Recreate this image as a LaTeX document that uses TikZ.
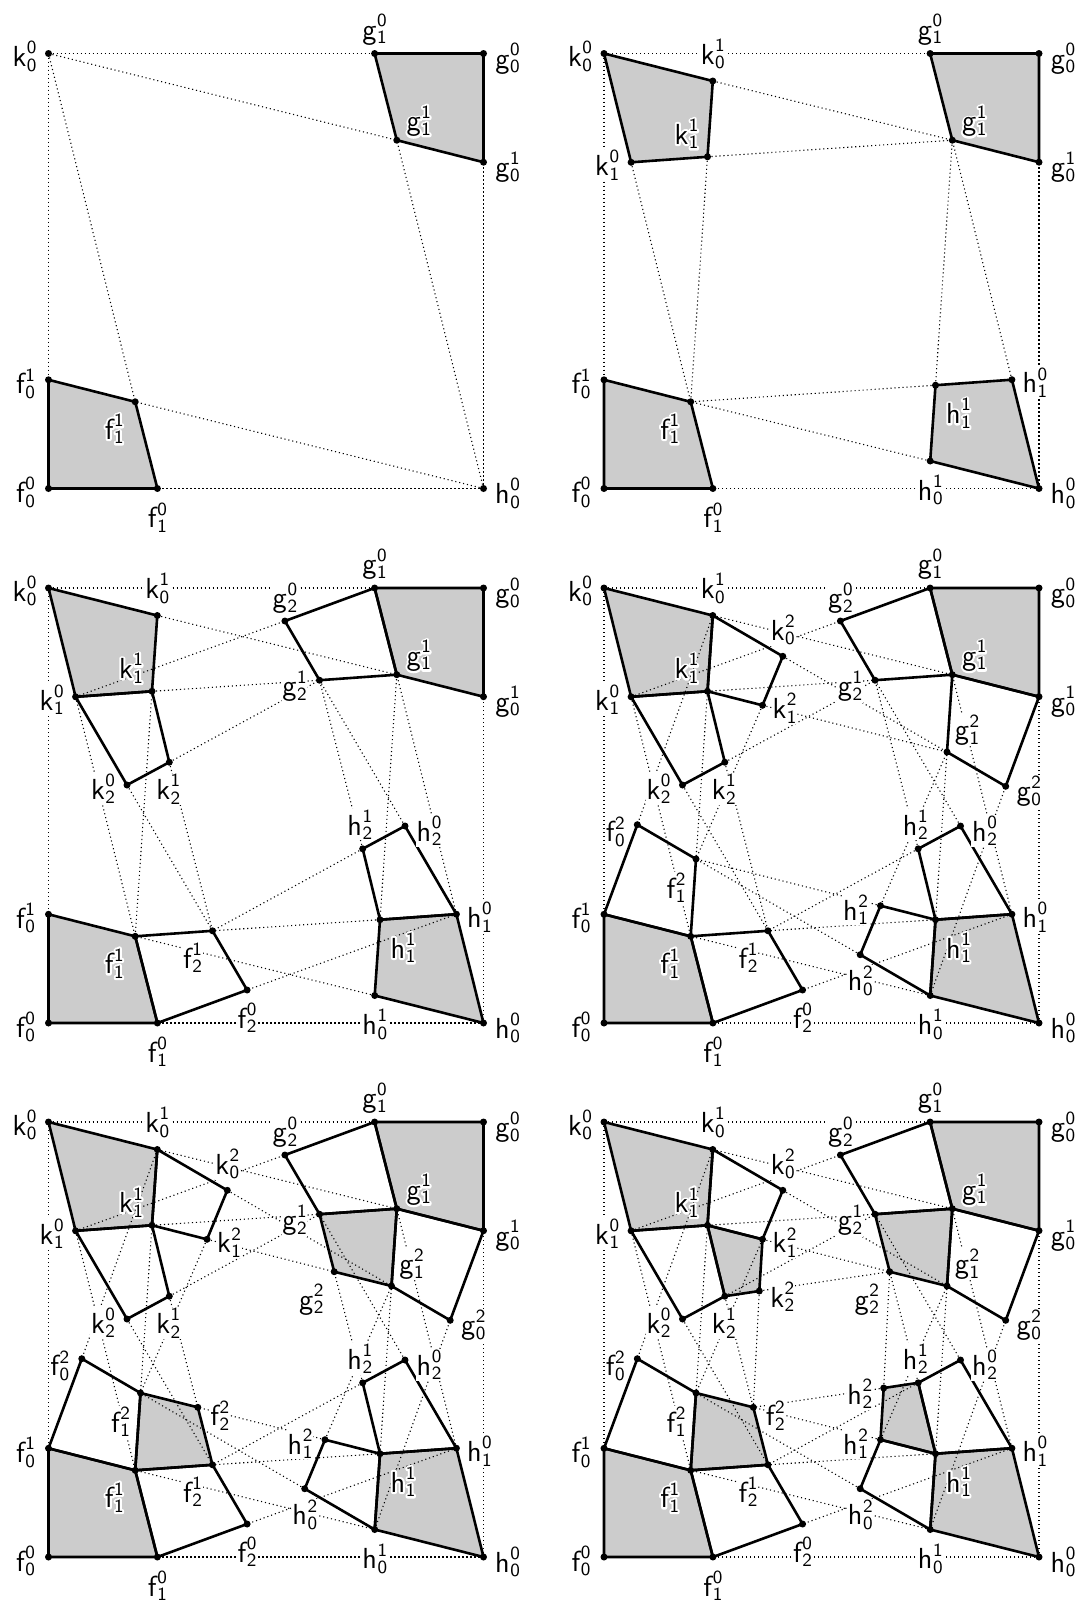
\documentclass[tikz,border=0pt]{standalone}
\definecolor{qgray}{gray}{0.8}
\newcommand\plab[3]{#1\kern0.3pt\rlap{\raisebox{6.3pt}{\fontsize{9.3}{9.3}\selectfont #3}}\raisebox{-2.3pt}{\fontsize{9.3}{9.3}\selectfont #2}}
% white outline round the glyphs: a stroked copy drawn under the normal text
\newcommand\halo[1]{\rlap{\special{pdf:literal direct 1 Tr 1 1 1 RG 2 w 1 j}#1\special{pdf:literal direct 0 Tr 0 0 0 RG}}#1}
\tikzset{
  lab/.style={inner sep=0.4pt, fill=white, font=\sffamily\fontsize{14.5}{16}\selectfont},
  labh/.style={inner sep=0.4pt, font=\sffamily\fontsize{14.5}{16}\selectfont},
  qedge/.style={line width=1.3pt, line join=round},
  consline/.style={line width=0.55pt, black, dash pattern=on 0.55pt off 1.45pt}
}
\newcommand\defpts{%
\coordinate (k00) at (0,0);
\coordinate (k01) at (108.8,27.5);
\coordinate (k02) at (178.8,68.3);
\coordinate (k10) at (27.1,108.8);
\coordinate (k11) at (103.5,103.3);
\coordinate (k12) at (158.5,117.3);
\coordinate (k20) at (78.5,197);
\coordinate (k21) at (120.8,174.2);
\coordinate (k22) at (155.3,169);
\coordinate (h00) at (435,435);
\coordinate (h01) at (326.2,407.5);
\coordinate (h02) at (256.2,366.7);
\coordinate (h10) at (407.9,326.2);
\coordinate (h11) at (331.5,331.7);
\coordinate (h12) at (276.5,317.7);
\coordinate (h20) at (356.5,238);
\coordinate (h21) at (314.2,260.8);
\coordinate (h22) at (279.7,266);
\coordinate (g00) at (435,0);
\coordinate (g10) at (326.1,0);
\coordinate (g20) at (236.4,33);
\coordinate (g01) at (435,108.7);
\coordinate (g11) at (348.3,86.7);
\coordinate (g21) at (271,92.2);
\coordinate (g02) at (401.7,198.3);
\coordinate (g12) at (343,164);
\coordinate (g22) at (285.7,149.7);
\coordinate (f00) at (0,435);
\coordinate (f10) at (108.9,435);
\coordinate (f20) at (198.6,402);
\coordinate (f01) at (0,326.3);
\coordinate (f11) at (86.7,348.3);
\coordinate (f21) at (164,342.8);
\coordinate (f02) at (33.3,236.7);
\coordinate (f12) at (92,271);
\coordinate (f22) at (149.3,285.3);
}
% quads
\newcommand\qf[5]{\fill[#1] (#2)--(#3)--(#4)--(#5)--cycle;}
\newcommand\qo[5]{\draw[qedge] (#2)--(#3)--(#4)--(#5)--cycle;}
\newcommand\QA[1]{#1{qgray}{f00}{f01}{f11}{f10}#1{qgray}{g00}{g01}{g11}{g10}}
\newcommand\QB[1]{#1{qgray}{k00}{k01}{k11}{k10}#1{qgray}{h00}{h01}{h11}{h10}}
\newcommand\QC[1]{#1{white}{k10}{k11}{k21}{k20}#1{white}{g10}{g11}{g21}{g20}#1{white}{f10}{f11}{f21}{f20}#1{white}{h10}{h11}{h21}{h20}}
\newcommand\QD[1]{#1{white}{k01}{k02}{k12}{k11}#1{white}{g01}{g02}{g12}{g11}#1{white}{f01}{f02}{f12}{f11}#1{white}{h01}{h02}{h12}{h11}}
\newcommand\QE[1]{#1{qgray}{g11}{g12}{g22}{g21}#1{qgray}{f11}{f12}{f22}{f21}}
\newcommand\QF[1]{#1{qgray}{k11}{k12}{k22}{k21}#1{qgray}{h11}{h12}{h22}{h21}}
% construction lines
\newcommand\dls[1]{\foreach \a/\b in {#1}{\draw[consline] (\a)--(\b);}}
% dots
\newcommand\dts[1]{\foreach \p in {#1}{\fill (\p) circle[radius=1.75pt];}}
\newcommand\PA{\dts{k00,h00,f00,f10,f01,f11,g00,g10,g01,g11}}
\newcommand\PB{\dts{k01,k10,k11,h01,h10,h11}}
\newcommand\PC{\dts{k20,k21,g20,g21,f20,f21,h20,h21}}
\newcommand\PD{\dts{k02,k12,g02,g12,f02,f12,h02,h12}}
\newcommand\PE{\dts{g22,f22}}
\newcommand\PF{\dts{k22,h22}}
% labels
\newcommand\lb[6]{\node[lab] (l#1) at ([shift={(#5,#6)}]#1) {\plab{#2}{#3}{#4}};}
\newcommand\lbh[6]{\node[labh] (l#1) at ([shift={(#5,#6)}]#1) {\halo{\plab{#2}{#3}{#4}}};}
\newcommand\LA{\lb{k00}{k}{0}{0}{-24}{3}\lb{h00}{h}{0}{0}{24}{5}\lb{f00}{f}{0}{0}{-23}{4}\lb{f10}{f}{1}{0}{0}{29}\lb{f01}{f}{0}{1}{-23}{4}\lbh{f11}{f}{1}{1}{-21}{27}\lb{g00}{g}{0}{0}{24}{5}\lb{g10}{g}{1}{0}{0}{-24}\lb{g01}{g}{0}{1}{24}{5}\lbh{g11}{g}{1}{1}{22}{-19}}
\newcommand\LB{\lb{k01}{k}{0}{1}{0}{-27}\lb{k10}{k}{1}{0}{-24}{3}\lbh{k11}{k}{1}{1}{-21}{-23}\lb{h01}{h}{0}{1}{0}{29}\lb{h10}{h}{1}{0}{23}{3}\lbh{h11}{h}{1}{1}{23}{28}}
\newcommand\LC{\lb{k20}{k}{2}{0}{-24}{4}\lb{k21}{k}{2}{1}{-1}{27}\lb{g20}{g}{2}{0}{0}{-23}\lb{g21}{g}{2}{1}{-25}{6}\lb{f20}{f}{2}{0}{0}{28}\lb{f21}{f}{2}{1}{-20}{27}\lb{h20}{h}{2}{0}{24}{5}\lb{h21}{h}{2}{1}{-3}{-24}}
\newcommand\LD{\lb{k02}{k}{0}{2}{0}{-26}\lb{k12}{k}{1}{2}{22}{3}\lb{g02}{g}{0}{2}{23}{5}\lb{g12}{g}{1}{2}{20}{-22}\lb{f02}{f}{0}{2}{-22}{7}\lb{f12}{f}{1}{2}{-20}{29}\lb{h02}{h}{0}{2}{0}{26}\lb{h12}{h}{1}{2}{-25}{4}}
\newcommand\LE{\lb{g22}{g}{2}{2}{-23}{28}\lb{f22}{f}{2}{2}{22}{8}}
\newcommand\LF{\lb{k22}{k}{2}{2}{23}{6}\lb{h22}{h}{2}{2}{-24}{6}}
\begin{document}
\begin{tikzpicture}[x=0.5pt,y=-0.5pt]
\fill[white] (0,0) rectangle (1084,1607);
\useasboundingbox (0,0) rectangle (1084,1607);
% ---------------- panel 1
\begin{scope}[shift={(48.5,53.5)}]
\defpts
\QA\qf
\dls{k00/g10,k00/g11,k00/f01,k00/f11,h00/g01,h00/g11,h00/f10,h00/f11}
\QA\qo
\PA
\LA
\end{scope}
% ---------------- panel 2
\begin{scope}[shift={(604,53.5)}]
\defpts
\QA\qf \QB\qf
\dls{k00/g10,k01/g11,k11/g11,k00/f01,k10/f11,k11/f11,h00/g01,h10/g11,h11/g11,h00/f10,h01/f11,h11/f11}
\QA\qo \QB\qo
\PA \PB
\LA \LB
\end{scope}
% ---------------- panel 3
\begin{scope}[shift={(48.5,588)}]
\defpts
\QA\qf \QB\qf \QC\qf
\dls{k00/g10,k01/g11,k10/g20,k11/g21,k21/g21,k00/f01,k10/f11,k11/f11,k20/f21,k21/f21,h00/g01,h10/g11,h11/g11,h20/g21,h21/g21,h00/f10,h01/f11,h10/f20,h11/f21,h21/f21}
\QA\qo \QB\qo \QC\qo
\PA \PB \PC
\LA \LB \LC
\end{scope}
% ---------------- panel 4
\begin{scope}[shift={(604,588)}]
\defpts
\QA\qf \QB\qf \QC\qf \QD\qf
\dls{k00/g10,k01/g11,k02/g12,k10/g20,k11/g21,k12/g12,k21/g21,k00/f01,k01/f02,k10/f11,k11/f12,k12/f12,k20/f21,k21/f21,h00/g01,h01/g02,h10/g11,h11/g12,h12/g12,h20/g21,h21/g21,h00/f10,h01/f11,h02/f12,h10/f20,h11/f21,h12/f12,h21/f21}
\QA\qo \QB\qo \QC\qo \QD\qo
\PA \PB \PC \PD
\LA \LB \LC \LD
\end{scope}
% ---------------- panel 5
\begin{scope}[shift={(48.5,1122)}]
\defpts
\QA\qf \QB\qf \QC\qf \QD\qf \QE\qf
\dls{k00/g10,k01/g11,k02/g12,k10/g20,k11/g21,k12/g22,k21/g21,k00/f01,k01/f02,k10/f11,k11/f12,k12/f12,k20/f21,k21/f22,h00/g01,h01/g02,h10/g11,h11/g12,h12/g12,h20/g21,h21/g22,h00/f10,h01/f11,h02/f12,h10/f20,h11/f21,h12/f22,h21/f21}
\QA\qo \QB\qo \QC\qo \QD\qo \QE\qo
\PA \PB \PC \PD \PE
\LA \LB \LC \LD \LE
\end{scope}
% ---------------- panel 6
\begin{scope}[shift={(604,1122)}]
\defpts
\QA\qf \QB\qf \QC\qf \QD\qf \QE\qf \QF\qf
\dls{k00/g10,k01/g11,k02/g12,k10/g20,k11/g21,k12/g22,k21/g21,k22/g22,k00/f01,k01/f02,k10/f11,k11/f12,k12/f12,k20/f21,k21/f22,k22/f22,h00/g01,h01/g02,h10/g11,h11/g12,h12/g12,h20/g21,h21/g22,h22/g22,h00/f10,h01/f11,h02/f12,h10/f20,h11/f21,h12/f22,h21/f21,h22/f22}
\QA\qo \QB\qo \QC\qo \QD\qo \QE\qo \QF\qo
\PA \PB \PC \PD \PE \PF
\LA \LB \LC \LD \LE \LF
\end{scope}
\end{tikzpicture}
\end{document}
